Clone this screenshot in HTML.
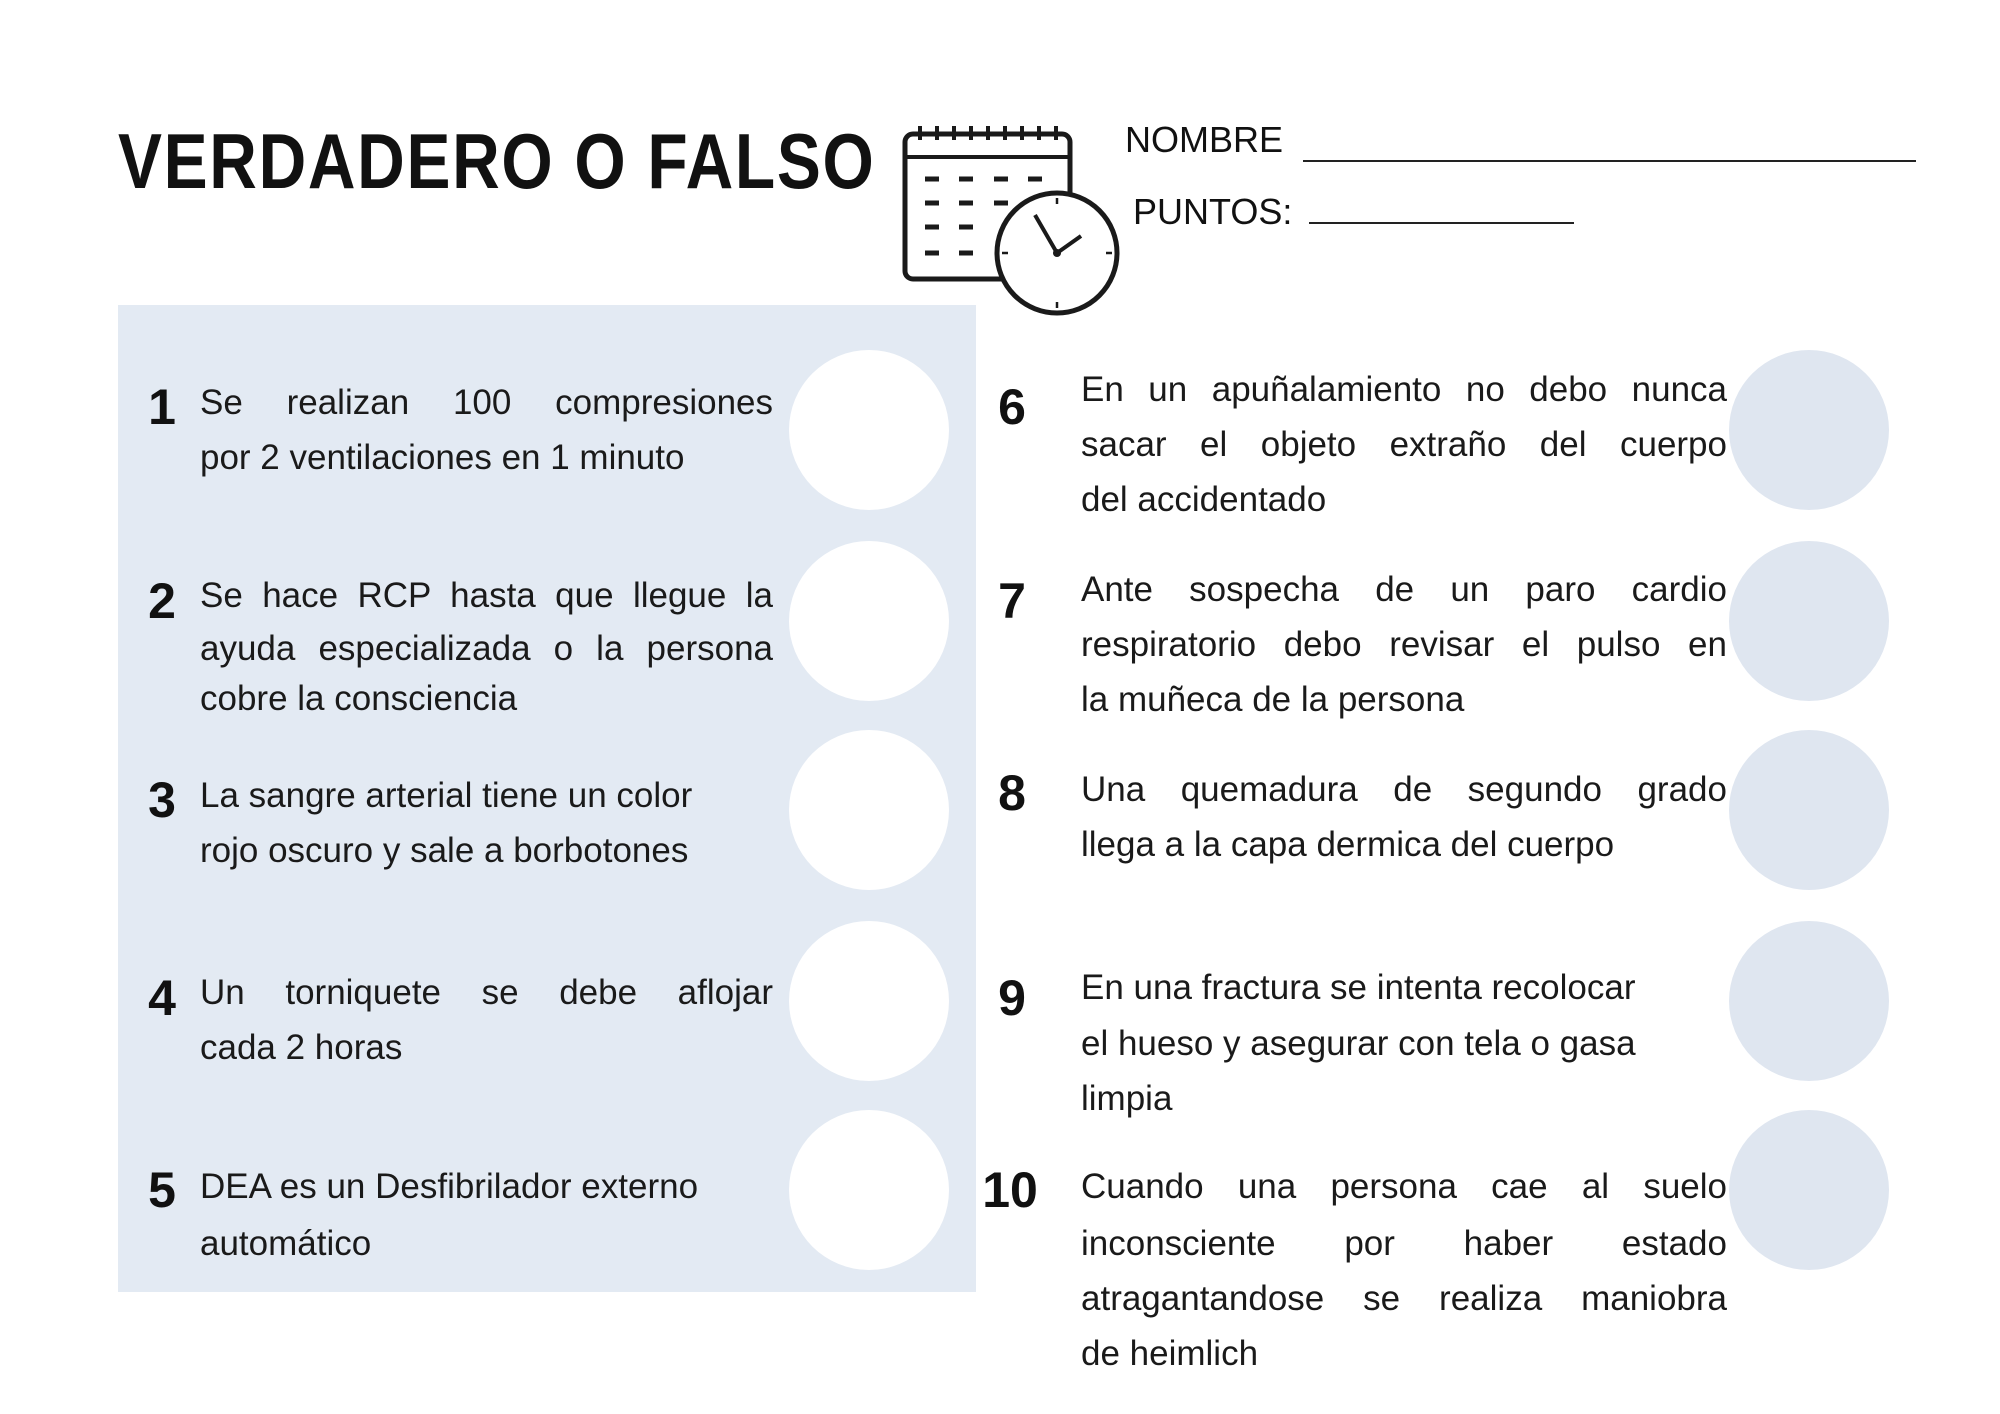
<!DOCTYPE html>
<html><head><meta charset="utf-8"><style>
body{margin:0;width:2000px;height:1414px;background:#fff;position:relative;overflow:hidden;font-family:"Liberation Sans",sans-serif;color:#111}
.a{position:absolute}
.t{position:absolute;height:50px;line-height:50px;font-size:35px;white-space:nowrap;color:#1a1a1a}
.j{text-align:justify;text-align-last:justify}
.n{position:absolute;width:60px;margin-left:-30px;text-align:center;font-weight:bold;font-size:50px;line-height:60px;height:60px}
.c{position:absolute;width:160px;height:160px;border-radius:50%}
.L{left:200px;width:573px}
.R{left:1081px;width:646px}
</style></head><body>
<div class="a" style="left:118px;top:116px;font-size:78px;font-weight:bold;line-height:90px;transform:scaleX(0.845);transform-origin:left top;white-space:nowrap;letter-spacing:2px">VERDADERO O FALSO</div>
<svg class="a" style="left:890px;top:115px" width="240" height="215" viewBox="890 115 240 215">
<rect x="905" y="134" width="165" height="145" rx="8" fill="#fff" stroke="#1a1a1a" stroke-width="5"/>
<line x1="905" y1="157" x2="1070" y2="157" stroke="#1a1a1a" stroke-width="4"/>
<g stroke="#1a1a1a" stroke-width="4"><line x1="920" y1="126" x2="920" y2="140"/><line x1="937" y1="126" x2="937" y2="140"/><line x1="954" y1="126" x2="954" y2="140"/><line x1="971" y1="126" x2="971" y2="140"/><line x1="988" y1="126" x2="988" y2="140"/><line x1="1005" y1="126" x2="1005" y2="140"/><line x1="1022" y1="126" x2="1022" y2="140"/><line x1="1039" y1="126" x2="1039" y2="140"/><line x1="1056" y1="126" x2="1056" y2="140"/></g>
<g stroke="#1a1a1a" stroke-width="5"><line x1="925" y1="179" x2="939" y2="179"/><line x1="959" y1="179" x2="973" y2="179"/><line x1="994" y1="179" x2="1008" y2="179"/><line x1="1028" y1="179" x2="1042" y2="179"/><line x1="925" y1="203" x2="939" y2="203"/><line x1="959" y1="203" x2="973" y2="203"/><line x1="994" y1="203" x2="1008" y2="203"/><line x1="925" y1="227" x2="939" y2="227"/><line x1="959" y1="227" x2="973" y2="227"/><line x1="925" y1="253" x2="939" y2="253"/><line x1="959" y1="253" x2="973" y2="253"/></g>
<circle cx="1057" cy="253" r="60" fill="#fff" stroke="#1a1a1a" stroke-width="5"/>
<line x1="1057" y1="253" x2="1035" y2="215" stroke="#1a1a1a" stroke-width="4"/>
<line x1="1057" y1="253" x2="1081" y2="236" stroke="#1a1a1a" stroke-width="4"/>
<circle cx="1057" cy="253" r="4" fill="#1a1a1a"/>
<g stroke="#1a1a1a" stroke-width="2.5"><line x1="1057" y1="198" x2="1057" y2="204"/><line x1="1057" y1="302" x2="1057" y2="308"/><line x1="1002" y1="253" x2="1008" y2="253"/><line x1="1106" y1="253" x2="1112" y2="253"/></g>
</svg>
<div class="a" style="left:1125px;top:117px;font-size:36px;line-height:46px">NOMBRE</div>
<div class="a" style="left:1303px;top:160px;width:613px;height:2px;background:#222"></div>
<div class="a" style="left:1133px;top:189px;font-size:36px;line-height:46px">PUNTOS:</div>
<div class="a" style="left:1309px;top:222px;width:265px;height:2px;background:#222"></div>
<div class="a" style="left:118px;top:305px;width:858px;height:987px;background:#e3eaf3"></div>
<div class="c" style="left:789px;top:350px;background:#fff"></div>
<div class="c" style="left:789px;top:541px;background:#fff"></div>
<div class="c" style="left:789px;top:730px;background:#fff"></div>
<div class="c" style="left:789px;top:921px;background:#fff"></div>
<div class="c" style="left:789px;top:1110px;background:#fff"></div>
<div class="c" style="left:1729px;top:350px;background:#dfe6f0"></div>
<div class="c" style="left:1729px;top:541px;background:#dfe6f0"></div>
<div class="c" style="left:1729px;top:730px;background:#dfe6f0"></div>
<div class="c" style="left:1729px;top:921px;background:#dfe6f0"></div>
<div class="c" style="left:1729px;top:1110px;background:#dfe6f0"></div>
<div class="n" style="left:162px;top:377px">1</div>
<div class="n" style="left:162px;top:571px">2</div>
<div class="n" style="left:162px;top:770px">3</div>
<div class="n" style="left:162px;top:968px">4</div>
<div class="n" style="left:162px;top:1160px">5</div>
<div class="n" style="left:1012px;top:377px">6</div>
<div class="n" style="left:1012px;top:571px">7</div>
<div class="n" style="left:1012px;top:763px">8</div>
<div class="n" style="left:1012px;top:968px">9</div>
<div class="n" style="left:1010px;top:1160px;width:80px;margin-left:-40px">10</div>
<div class="t L j" style="top:378px">Se realizan 100 compresiones</div>
<div class="t L" style="top:433px">por 2 ventilaciones en 1 minuto</div>
<div class="t L j" style="top:571px">Se hace RCP hasta que llegue la</div>
<div class="t L j" style="top:624px">ayuda especializada o la persona</div>
<div class="t L" style="top:674px">cobre la consciencia</div>
<div class="t L" style="top:771px">La sangre arterial tiene un color</div>
<div class="t L" style="top:826px">rojo oscuro y sale a borbotones</div>
<div class="t L j" style="top:968px">Un torniquete se debe aflojar</div>
<div class="t L" style="top:1023px">cada 2 horas</div>
<div class="t L" style="top:1162px">DEA es un Desfibrilador externo</div>
<div class="t L" style="top:1219px">automático</div>
<div class="t R j" style="top:365px">En un apuñalamiento no debo nunca</div>
<div class="t R j" style="top:420px">sacar el objeto extraño del cuerpo</div>
<div class="t R" style="top:475px">del accidentado</div>
<div class="t R j" style="top:565px">Ante sospecha de un paro cardio</div>
<div class="t R j" style="top:620px">respiratorio debo revisar el pulso en</div>
<div class="t R" style="top:675px">la muñeca de la persona</div>
<div class="t R j" style="top:765px">Una quemadura de segundo grado</div>
<div class="t R" style="top:820px">llega a la capa dermica del cuerpo</div>
<div class="t R" style="top:963px">En una fractura se intenta recolocar</div>
<div class="t R" style="top:1019px">el hueso y asegurar con tela o gasa</div>
<div class="t R" style="top:1074px">limpia</div>
<div class="t R j" style="top:1162px">Cuando una persona cae al suelo</div>
<div class="t R j" style="top:1219px">inconsciente por haber estado</div>
<div class="t R j" style="top:1274px">atragantandose se realiza maniobra</div>
<div class="t R" style="top:1329px">de heimlich</div>
</body></html>
